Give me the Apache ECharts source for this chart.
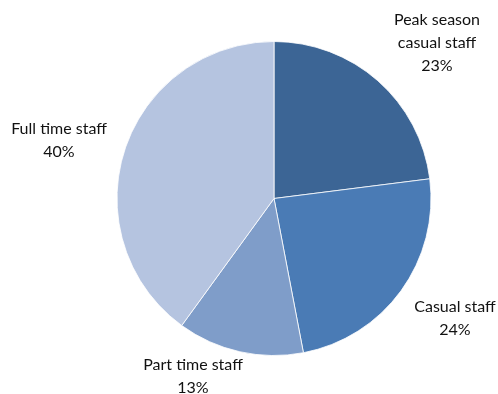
<!DOCTYPE html>
<html>
<head>
<meta charset="utf-8">
<script src="https://cdn.jsdelivr.net/npm/echarts@6/dist/echarts.min.js"></script>
<style>
  html, body { margin: 0; padding: 0; background: #fff; }
  #chart { width: 498px; height: 394px; }
</style>
</head>
<body>
<div id="chart"></div>
<script>
// Staff mix by employment type (percent of total)
const categories = ['Peak season\ncasual staff', 'Casual staff', 'Part time staff', 'Full time staff'];
const shares = [23, 24, 13, 40];
const colors = ['#3C6595', '#4A7BB5', '#7F9DC9', '#B5C4E0'];

// Label block centres, placed around the pie
const labelSpots = [[437, 43], [455, 318], [193, 376], [59, 140]];

const chart = echarts.init(document.getElementById('chart'));
chart.setOption({
  animation: false,
  series: [{
    type: 'pie',
    center: [274, 198.5],
    radius: 157,
    startAngle: 90,
    clockwise: true,
    data: categories.map((name, i) => ({
      name: name,
      value: shares[i],
      itemStyle: { color: colors[i] }
    })),
    itemStyle: { borderColor: '#ffffff', borderWidth: 0.8 },
    label: {
      show: true,
      position: 'outside',
      formatter: '{b}\n{d}%',
      fontFamily: 'Lato',
      fontSize: 16,
      lineHeight: 23,
      color: '#111111',
      align: 'center',
      overflow: 'none'
    },
    labelLine: { show: false },
    labelLayout: function (p) {
      const s = labelSpots[p.dataIndex];
      return { x: s[0], y: s[1], align: 'center', verticalAlign: 'middle' };
    }
  }]
});
</script>
</body>
</html>
